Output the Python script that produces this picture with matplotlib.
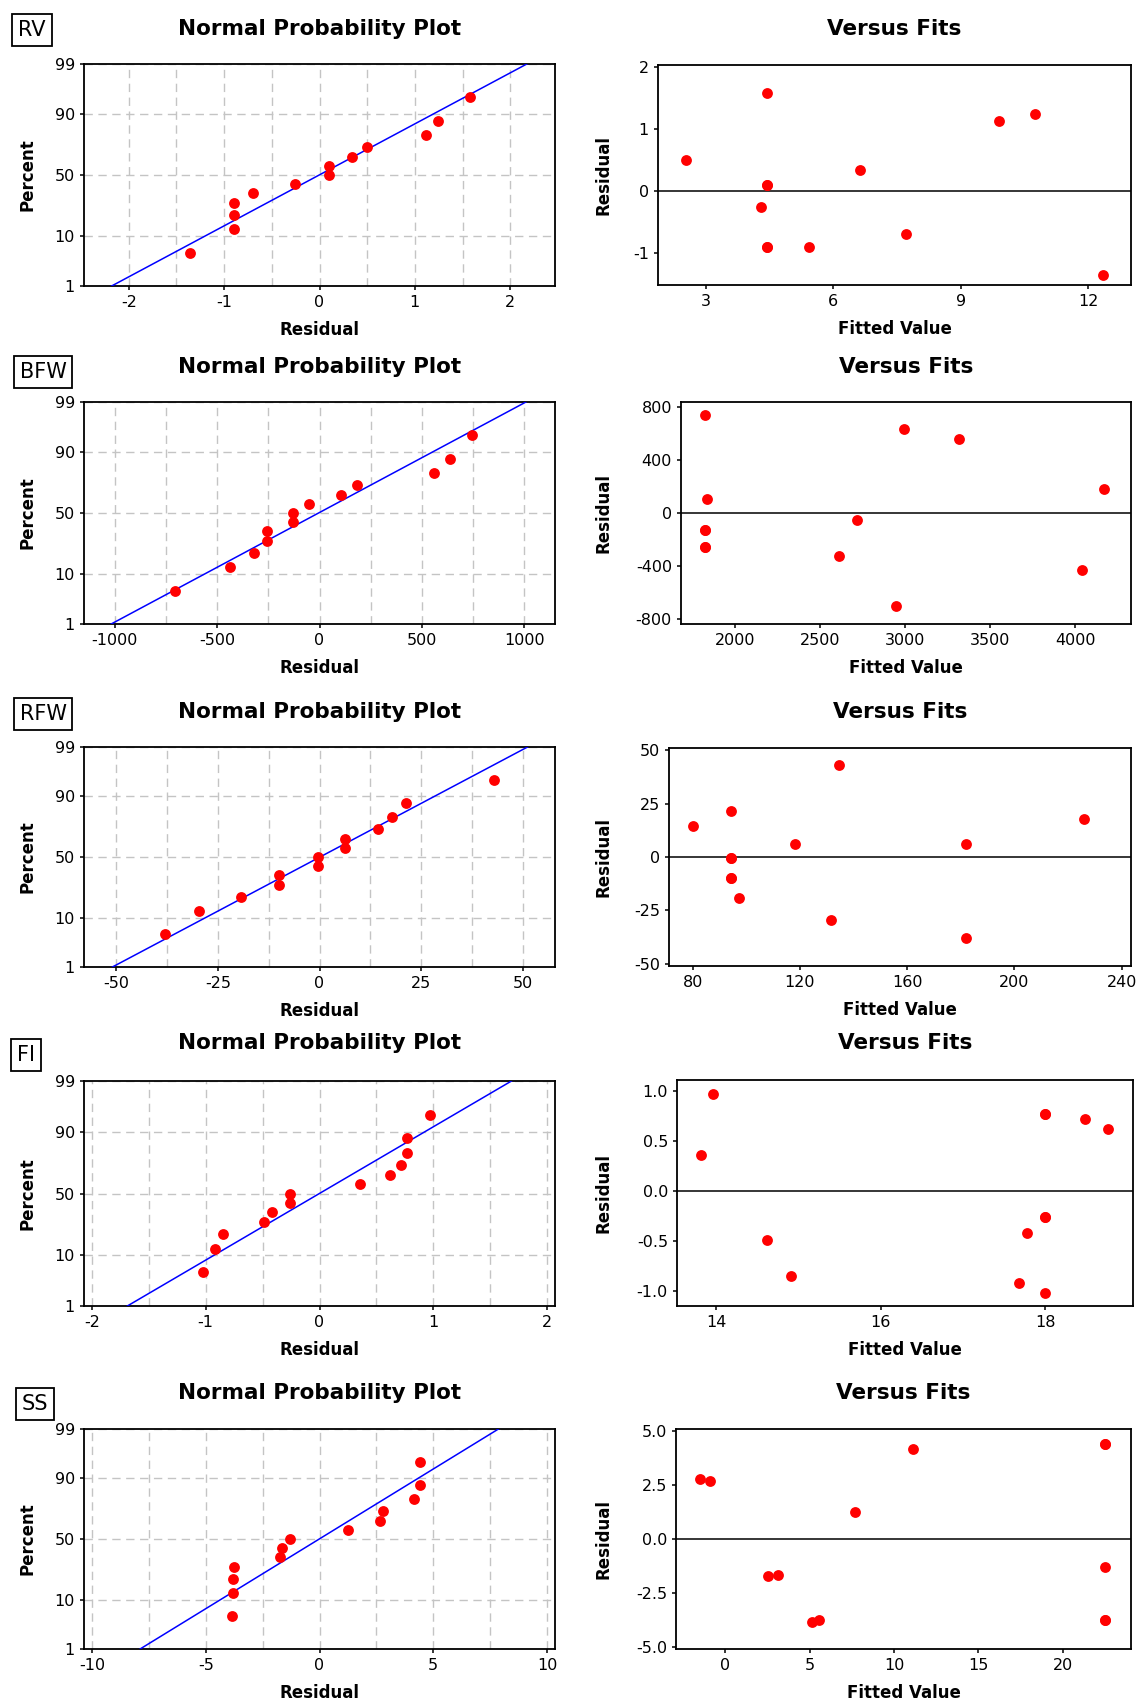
import numpy as np
import matplotlib
matplotlib.use('Agg')
import matplotlib.pyplot as plt
import matplotlib.transforms as mtransforms
from matplotlib.ticker import MultipleLocator, FormatStrFormatter
from statistics import NormalDist

#-------------------------------------------------------------------------
# residuals vs fitted values (13 runs per response)
responses = ['RV', 'BFW', 'RFW', 'FI', 'SS']

rv_fit = [2.53, 4.45, 4.45, 4.45, 4.45, 4.45, 4.30, 5.43, 6.63, 7.72, 9.89, 10.74, 12.34]
rv_resid = [0.50, 1.58, 0.10, 0.10, -0.90, -0.90, -0.26, -0.90, 0.34, -0.70, 1.12, 1.24, -1.36]

bfw_fit = [1820, 1831, 1820, 1820, 1820, 1820, 2611, 2718, 2942, 2991, 3318, 4040, 4171]
bfw_resid = [745, 103, -128, -128, -258, -258, -322, -52, -704, 638, 558, -435, 182]

rfw_fit = [80.0, 94.4, 94.4, 94.4, 94.4, 94.4, 97.2, 118.3, 131.8, 134.7, 182.0, 182.0, 226.1]
rfw_resid = [14.5, 21.4, -0.3, -0.3, -10.0, -10.0, -19.3, 6.2, -29.6, 42.9, 6.2, -38.0, 17.8]

fi_fit = [13.81, 13.96, 14.62, 14.91, 17.68, 17.78, 18.0, 18.0, 18.0, 18.0, 18.0, 18.49, 18.76]
fi_resid = [0.36, 0.97, -0.49, -0.85, -0.92, -0.42, -0.26, -0.26, -1.02, 0.77, 0.77, 0.72, 0.62]

ss_fit = [-1.51, -0.88, 2.52, 3.14, 5.16, 5.53, 7.66, 11.10, 22.49, 22.49, 22.49, 22.49, 22.49]
ss_resid = [2.78, 2.68, -1.74, -1.65, -3.86, -3.74, 1.27, 4.17, 4.40, 4.40, -1.28, -3.78, -3.78]

# plotting positions (percent) of the ordered residuals
npp_percent = [5.2, 12.7, 20.1, 27.6, 35.1, 42.5, 50.0, 57.5, 64.9, 72.4, 79.9, 87.3, 94.8]
pct_ticks = [1, 10, 50, 90, 99]
#-------------------------------------------------------------------------

fits = {'RV': rv_fit, 'BFW': bfw_fit, 'RFW': rfw_fit, 'FI': fi_fit, 'SS': ss_fit}
resids = {'RV': rv_resid, 'BFW': bfw_resid, 'RFW': rfw_resid, 'FI': fi_resid, 'SS': ss_resid}

# axis ranges / tick steps
npp_xmax = {'RV': 2.47, 'BFW': 1150, 'RFW': 58, 'FI': 2.07, 'SS': 10.35}
npp_step = {'RV': 1, 'BFW': 500, 'RFW': 25, 'FI': 1, 'SS': 5}
vf_xlim = {'RV': (1.88, 13.0), 'BFW': (1680, 4327), 'RFW': (71.2, 243.5), 'FI': (13.52, 19.07), 'SS': (-2.92, 24.04)}
vf_ylim = {'RV': (-1.52, 2.03), 'BFW': (-840, 840), 'RFW': (-51, 51), 'FI': (-1.155, 1.11), 'SS': (-5.11, 5.11)}
vf_xstep = {'RV': 3, 'BFW': 500, 'RFW': 40, 'FI': 2, 'SS': 5}
vf_ystep = {'RV': 1, 'BFW': 400, 'RFW': 25, 'FI': 0.5, 'SS': 2.5}
vf_yfmt = {'FI': '%.1f', 'SS': '%.1f'}

# layout in pixels of the 1136x1704 canvas
W, H = 1136, 1704
npp_rows = [(64, 286), (402, 624), (747, 967), (1081, 1306), (1429, 1649)]
vf_boxes = [(658, 1131, 65, 285), (681, 1131, 402, 624), (669, 1131, 748, 966),
            (677, 1133, 1080, 1306), (676, 1131, 1429, 1649)]
title_y = [29, 367, 712, 1043, 1393]
tag_xy = [(32, 30), (43, 372), (43, 714), (26, 1055), (35, 1404)]
npp_left, npp_right = 84, 555

plt.rcParams['font.family'] = 'DejaVu Sans'
plt.rcParams['axes.unicode_minus'] = False

fig = plt.figure(figsize=(W / 100, H / 100), dpi=100)
nd = NormalDist()


def probit(p):
    return nd.inv_cdf(p / 100.0)


def add_px_axes(l, r, t, b):
    return fig.add_axes([l / W, 1 - b / H, (r - l) / W, (b - t) / H])


def style_axes(ax, hpx, xlabel, ylabel, ylab_x):
    for s in ax.spines.values():
        s.set_linewidth(1.3)
        s.set_color('black')
    ax.tick_params(which='major', direction='out', length=3, width=1.1,
                   labelsize=11.5, pad=3.5, colors='black', top=False, right=False)
    ax.tick_params(which='minor', length=0)
    ax.set_xlabel(xlabel, fontsize=12, fontweight='bold')
    ax.xaxis.set_label_coords(0.5, -44.0 / hpx)
    ax.xaxis.label.set_va('center')
    ax.set_ylabel(ylabel, fontsize=12, fontweight='bold')
    tr = mtransforms.blended_transform_factory(fig.transFigure, ax.transAxes)
    ax.yaxis.set_label_coords(ylab_x / W, 0.5, transform=tr)
    ax.yaxis.label.set_va('center')


grid_kw = dict(color='#c4c4c4', linewidth=1.0, linestyle=(0, (6, 4)))
zlo, zhi = probit(pct_ticks[0]), probit(pct_ticks[-1])

for i, name in enumerate(responses):
    r = np.array(resids[name], dtype=float)
    f = np.array(fits[name], dtype=float)
    top, bot = npp_rows[i]

    # ---- normal probability plot
    ax = add_px_axes(npp_left, npp_right, top, bot)
    z = np.array([probit(p) for p in npp_percent])
    ax.plot(np.sort(r), z, 'o', color='#ff0000', ms=7.8, mew=0, zorder=4)
    mu, sd = r.mean(), r.std(ddof=1)
    zl = np.array([zlo, zhi])
    ax.plot(mu + sd * zl, zl, color='#0000ff', lw=1.1, zorder=3)
    ax.set_ylim(zlo, zhi)
    ax.set_yticks([probit(p) for p in pct_ticks])
    ax.set_yticklabels([str(p) for p in pct_ticks])
    xm = npp_xmax[name]
    ax.set_xlim(-xm, xm)
    ax.xaxis.set_major_locator(MultipleLocator(npp_step[name]))
    ax.xaxis.set_minor_locator(MultipleLocator(npp_step[name] / 2))
    ax.set_axisbelow(True)
    ax.grid(True, which='both', axis='x', **grid_kw)
    ax.grid(True, which='major', axis='y', **grid_kw)
    style_axes(ax, bot - top, 'Residual', 'Percent', 27)
    fig.text((npp_left + npp_right) / 2 / W, 1 - title_y[i] / H, 'Normal Probability Plot',
             ha='center', va='center', fontsize=15.5, fontweight='bold')

    # ---- versus fits
    l, rr, t, b = vf_boxes[i]
    ax2 = add_px_axes(l, rr, t, b)
    ax2.plot(f, r, 'o', color='#ff0000', ms=7.8, mew=0, zorder=4)
    ax2.axhline(0, color='black', lw=1.1, zorder=2)
    ax2.set_xlim(*vf_xlim[name])
    ax2.set_ylim(*vf_ylim[name])
    ax2.xaxis.set_major_locator(MultipleLocator(vf_xstep[name]))
    ax2.yaxis.set_major_locator(MultipleLocator(vf_ystep[name]))
    if name in vf_yfmt:
        ax2.yaxis.set_major_formatter(FormatStrFormatter(vf_yfmt[name]))
    style_axes(ax2, b - t, 'Fitted Value', 'Residual', 604)
    fig.text((l + rr) / 2 / W, 1 - title_y[i] / H, 'Versus Fits',
             ha='center', va='center', fontsize=15.5, fontweight='bold')

    # ---- response tag
    tx, ty = tag_xy[i]
    fig.text(tx / W, 1 - ty / H, name, ha='center', va='center', fontsize=15,
             bbox=dict(boxstyle='square,pad=0.28', fc='white', ec='black', lw=1.3))

fig.savefig('out.png', dpi=100)
